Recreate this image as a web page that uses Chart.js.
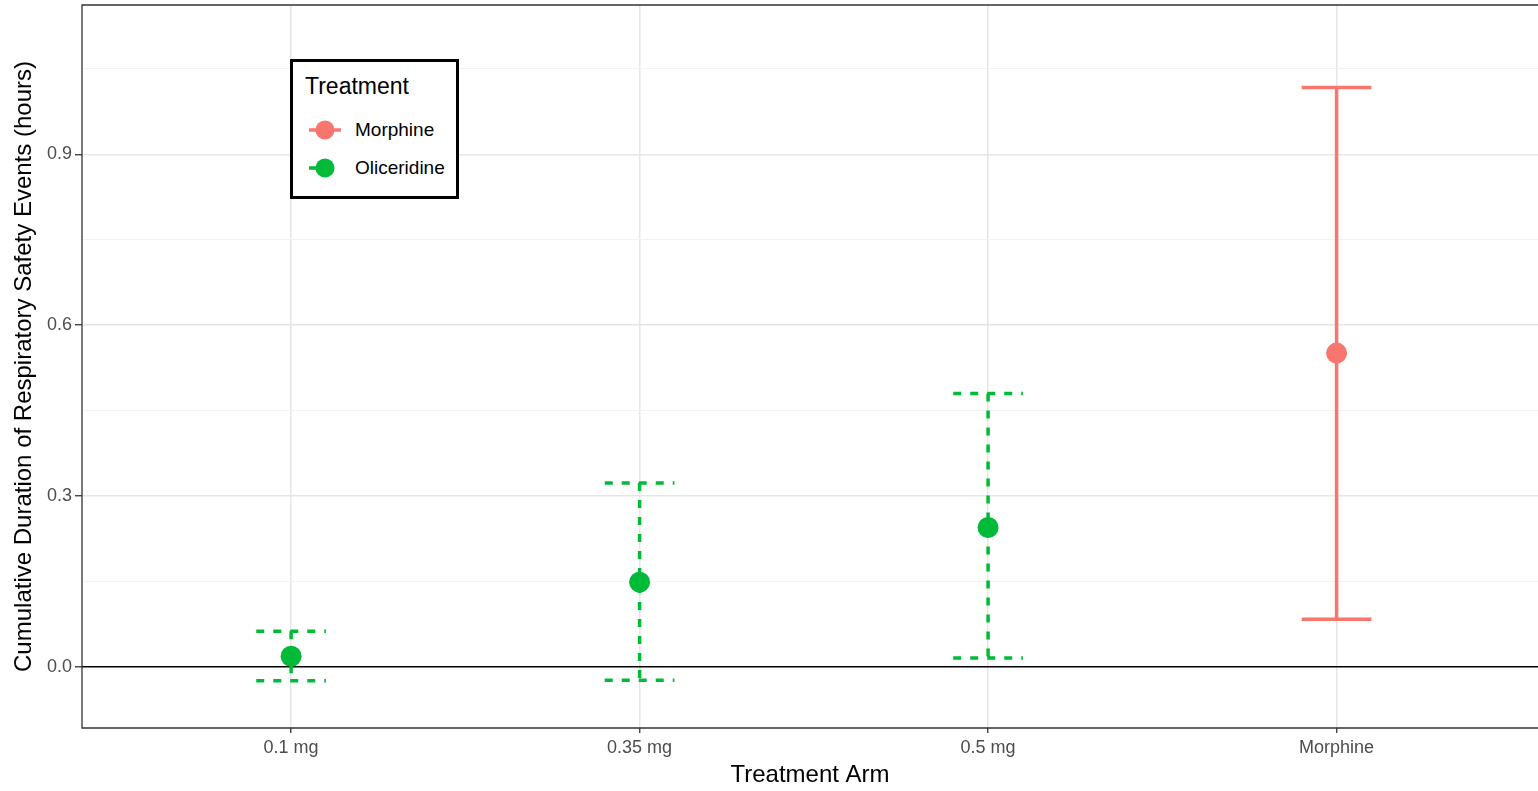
<!DOCTYPE html>
<html>
<head>
<meta charset="utf-8">
<script src="https://cdn.jsdelivr.net/npm/chart.js@4.4.1/dist/chart.umd.min.js"></script>
<style>
  html, body { margin: 0; padding: 0; background: #fff; overflow: hidden; }
  #wrap { position: relative; width: 1538px; height: 791px; }
  #legend {
    position: absolute; left: 290px; top: 59px; width: 163px; height: 134px;
    border: 3px solid #000; background: #fff;
    font-family: "Liberation Sans", Arial, sans-serif; color: #000;
  }
  #legend .title { position: absolute; left: 12px; top: 11px; font-size: 23px; }
  #legend .row { position: absolute; left: 14px; height: 24px; }
  #legend .row span { position: absolute; left: 48px; top: 1px; font-size: 19px; white-space: nowrap; }
</style>
</head>
<body>
<div id="wrap">
  <canvas id="chart"></canvas>
  <div id="legend"></div>
</div>
<script>
/// treatment arms and the estimates with their intervals
const arms = ["0.1 mg", "0.35 mg", "0.5 mg", "Morphine"];
const treatmentOf = ["Oliceridine", "Oliceridine", "Oliceridine", "Morphine"];
const estimate = [0.019, 0.149, 0.245, 0.551];
const lower = [-0.024, -0.023, 0.016, 0.084];
const upper = [0.063, 0.323, 0.480, 1.017];
const yTickValues = [0, 0.3, 0.6, 0.9];
const treatments = ["Morphine", "Oliceridine"];

const colours = { Morphine: "#F8766D", Oliceridine: "#00BA38" };
const dashes = { Morphine: [], Oliceridine: [8, 9] };
const whisker = 0.1; // half width of the error bar caps

// major ticks plus the minor ones half way between
const yTicksAll = [];
yTickValues.forEach((v, i) => {
  yTicksAll.push(v);
  const step = yTickValues[1] - yTickValues[0];
  yTicksAll.push(+(v + step / 2).toFixed(3));
});
const isMajor = (v) => yTickValues.some((t) => Math.abs(t - v) < 1e-6);

const datasets = [];
arms.forEach((arm, i) => {
  const x = i + 1;
  const t = treatmentOf[i];
  datasets.push({
    data: [
      { x: x - whisker, y: upper[i] }, { x: x + whisker, y: upper[i] },
      { x: x, y: null },
      { x: x, y: upper[i] }, { x: x, y: lower[i] },
      { x: x, y: null },
      { x: x - whisker, y: lower[i] }, { x: x + whisker, y: lower[i] },
    ],
    showLine: true,
    spanGaps: false,
    borderColor: colours[t],
    borderWidth: 3.5,
    borderDash: dashes[t],
    pointRadius: 0,
    pointHoverRadius: 0,
  });
});
arms.forEach((arm, i) => {
  const t = treatmentOf[i];
  datasets.push({
    data: [{ x: i + 1, y: estimate[i] }],
    backgroundColor: colours[t],
    borderWidth: 0,
    pointRadius: 10.5,
    pointHoverRadius: 10.5,
  });
});

// panel border: the right side falls outside the picture, so only top, left, bottom
const panelFrame = {
  id: "panelFrame",
  beforeDatasetsDraw(chart) {
    const { ctx, chartArea: a } = chart;
    ctx.save();
    ctx.strokeStyle = "#333333";
    ctx.lineWidth = 1.3;
    ctx.beginPath();
    ctx.moveTo(a.right + 2, a.top);
    ctx.lineTo(a.left, a.top);
    ctx.lineTo(a.left, a.bottom);
    ctx.lineTo(a.right + 2, a.bottom);
    ctx.stroke();
    ctx.restore();
  },
};

const tickFont = { family: "'Liberation Sans', Arial, sans-serif", size: 18 };
const titleFont = { family: "'Liberation Sans', Arial, sans-serif", size: 24 };

new Chart(document.getElementById("chart"), {
  type: "scatter",
  data: { datasets },
  plugins: [panelFrame],
  options: {
    responsive: true,
    maintainAspectRatio: false,
    animation: false,
    events: [],
    layout: { autoPadding: false, padding: { top: 5, left: 0, right: 0, bottom: 0 } },
    plugins: { legend: { display: false }, tooltip: { enabled: false } },
    scales: {
      x: {
        type: "linear",
        min: 0.4,
        max: 4.578,
        afterFit: (s) => { s.height = 63; s.paddingLeft = 0; s.paddingRight = 0; },
        afterBuildTicks: (s) => { s.ticks = arms.map((a, i) => ({ value: i + 1 })); },
        ticks: {
          autoSkip: false, maxRotation: 0, padding: 4, color: "#4d4d4d", font: tickFont,
          callback: (v) => arms[Math.round(v) - 1],
        },
        grid: { color: "#e6e6e6", lineWidth: 1.5, tickLength: 5, tickColor: "#333333", tickWidth: 1.3 },
        border: { display: false },
        title: { display: true, text: "Treatment Arm", color: "#000", font: titleFont, padding: { top: 0, bottom: 1 } },
      },
      y: {
        min: -0.107,
        max: 1.162,
        afterFit: (s) => { s.width = 82; s.paddingTop = 0; s.paddingBottom = 0; },
        afterBuildTicks: (s) => { s.ticks = yTicksAll.map((v) => ({ value: v })); },
        ticks: {
          padding: 3, color: "#4d4d4d", font: tickFont,
          callback: (v) => (isMajor(v) ? v.toFixed(1) : ""),
        },
        grid: {
          color: (c) => (Math.abs(c.tick.value) < 1e-6 ? "#000000" : isMajor(c.tick.value) ? "#e6e6e6" : "#f2f2f2"),
          lineWidth: (c) => (Math.abs(c.tick.value) < 1e-6 ? 1.6 : isMajor(c.tick.value) ? 1.5 : 1),
          tickLength: 7,
          tickWidth: 1.3,
          tickColor: (c) => (isMajor(c.tick.value) ? "#333333" : "rgba(0,0,0,0)"),
        },
        border: { display: false },
        title: { display: true, text: "Cumulative Duration of Respiratory Safety Events (hours)", color: "#000", font: titleFont, padding: { top: 10, bottom: 0 } },
      },
    },
  },
});

// legend box drawn as html, keys as small svg
const legend = document.getElementById("legend");
legend.innerHTML = '<div class="title">Treatment</div>';
treatments.forEach((t, i) => {
  const row = document.createElement("div");
  row.className = "row";
  row.style.top = 56 + i * 38 + "px";
  const dash = dashes[t].length ? 'stroke-dasharray="8 9"' : "";
  row.innerHTML =
    '<svg width="40" height="24" style="position:absolute;left:0;top:0">' +
    '<line x1="2" y1="12" x2="34" y2="12" stroke="' + colours[t] + '" stroke-width="3.5" ' + dash + "/>" +
    '<circle cx="18" cy="12" r="9.5" fill="' + colours[t] + '"/></svg>' +
    "<span>" + t + "</span>";
  legend.appendChild(row);
});
</script>
</body>
</html>
